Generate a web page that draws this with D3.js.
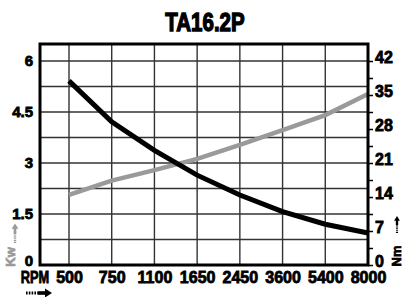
<!DOCTYPE html>
<html>
<head>
<meta charset="utf-8">
<script src="https://cdn.jsdelivr.net/npm/d3@7"></script>
<style>
body { margin: 0; background: #fff; }
svg text { font-family: "Liberation Sans", Arial, sans-serif; font-weight: bold; }
</style>
</head>
<body>
<svg width="404" height="297"></svg>
<script>
var rpm = ["500", "750", "1100", "1650", "2450", "3600", "5400", "8000"];
var kw = [2.06, 2.48, 2.79, 3.12, 3.53, 3.97, 4.41, 5.03];
var nm = [37.9, 29.5, 23.6, 18.5, 14.4, 11.0, 8.4, 6.6];
var kwTicks = [0, 1.5, 3, 4.5, 6];
var nmTicks = [0, 7, 14, 21, 28, 35, 42];

var svg = d3.select("svg");
var plotLeft = 40, plotRight = 368, plotTop = 44, plotBottom = 265;

var x = d3.scalePoint().domain(rpm).range([69, plotRight]);
var yKw = d3.scaleLinear().domain([0, 6.5]).range([plotBottom, plotTop]);
var yNm = d3.scaleLinear().domain([0, 45.5]).range([plotBottom, plotTop]);

// grid
var grid = svg.append("g").attr("stroke", "#333").attr("stroke-width", 1.4);
grid.selectAll("line.h")
    .data(d3.range(1, 9).map(function(i) { return i * 0.75; }))
    .enter().append("line")
    .attr("x1", plotLeft).attr("x2", plotRight)
    .attr("y1", function(d) { return yKw(d); })
    .attr("y2", function(d) { return yKw(d); });
grid.selectAll("line.v")
    .data(rpm.slice(0, -1))
    .enter().append("line")
    .attr("x1", function(d) { return x(d); })
    .attr("x2", function(d) { return x(d); })
    .attr("y1", plotTop).attr("y2", plotBottom);

// lines
var kwLine = d3.line()
    .x(function(d, i) { return x(rpm[i]); })
    .y(function(d) { return yKw(d); });
var nmLine = d3.line()
    .x(function(d, i) { return x(rpm[i]); })
    .y(function(d) { return yNm(d); });

svg.append("path").datum(kw)
    .attr("d", kwLine)
    .attr("fill", "none")
    .attr("stroke", "#9a9a9a")
    .attr("stroke-width", 4.5);
svg.append("path").datum(nm)
    .attr("d", nmLine)
    .attr("fill", "none")
    .attr("stroke", "#000")
    .attr("stroke-width", 5);

// frame
svg.append("rect")
    .attr("x", plotLeft).attr("y", plotTop)
    .attr("width", plotRight - plotLeft).attr("height", plotBottom - plotTop)
    .attr("fill", "none").attr("stroke", "#000").attr("stroke-width", 3);

// axes
var leftAxis = svg.append("g")
    .attr("transform", "translate(" + plotLeft + ",0)")
    .call(d3.axisLeft(yKw).tickValues(kwTicks).tickSize(0).tickPadding(7)
        .tickFormat(function(d) { return String(d); }));
var rightAxis = svg.append("g")
    .attr("transform", "translate(" + plotRight + ",0)")
    .call(d3.axisRight(yNm)
        .tickValues(d3.range(0, 13).map(function(i) { return i * 3.5; }))
        .tickSize(5).tickPadding(2)
        .tickFormat(function(d) { return nmTicks.indexOf(d) >= 0 ? d : ""; }));
var bottomAxis = svg.append("g")
    .attr("transform", "translate(0," + plotBottom + ")")
    .call(d3.axisBottom(x).tickSize(0).tickPadding(7));

[leftAxis, rightAxis, bottomAxis].forEach(function(a) {
    a.select(".domain").remove();
    a.selectAll("text")
        .attr("font-family", null)
        .attr("font-size", 16)
        .attr("fill", "#000")
        .attr("stroke", "#000").attr("stroke-width", 0.8);
});
leftAxis.selectAll("text").attr("font-size", 15)
    .attr("dy", function(d) { return d === 0 ? "0" : "0.32em"; });
rightAxis.selectAll("text").attr("dy", "0.12em");
rightAxis.selectAll("line").attr("stroke", "#000").attr("stroke-width", 1.5);

// title
svg.append("text")
    .attr("transform", "translate(205,31) scale(0.82,1)")
    .attr("text-anchor", "middle")
    .attr("font-size", 25)
    .attr("stroke", "#000").attr("stroke-width", 1.3)
    .text("TA16.2P");

svg.append("text")
    .attr("transform", "translate(35,283) scale(0.8,1)")
    .attr("text-anchor", "middle")
    .attr("font-size", 16)
    .attr("stroke", "#000").attr("stroke-width", 0.8)
    .text("RPM");

svg.append("text")
    .attr("transform", "translate(10,257) rotate(-90)")
    .attr("text-anchor", "middle").attr("dy", "0.35em")
    .attr("font-size", 13)
    .attr("fill", "#9a9a9a")
    .attr("stroke", "#9a9a9a").attr("stroke-width", 0.7)
    .text("Kw");

svg.append("text")
    .attr("transform", "translate(396,256) rotate(-90)")
    .attr("text-anchor", "middle").attr("dy", "0.35em")
    .attr("font-size", 13)
    .attr("fill", "#000")
    .attr("stroke", "#000").attr("stroke-width", 0.7)
    .text("Nm");

// arrows
function arrow(tx, ty, rot, s, color) {
    var g = svg.append("g")
        .attr("transform", "translate(" + tx + "," + ty + ") rotate(" + rot + ") scale(" + s + ")");
    g.append("line")
        .attr("x1", 0).attr("x2", 12).attr("y1", 0).attr("y2", 0)
        .attr("stroke", color).attr("stroke-width", 3.2)
        .attr("stroke-dasharray", "1.6,1.2");
    g.append("rect")
        .attr("x", 12).attr("y", -1.8).attr("width", 8).attr("height", 3.6)
        .attr("fill", color);
    g.append("path")
        .attr("d", "M19,-4.5L26,0L19,4.5Z")
        .attr("fill", color);
}
arrow(26, 293, 0, 1, "#000");
arrow(15, 243, -90, 0.75, "#9a9a9a");
arrow(397, 233, -90, 0.65, "#000");
</script>
</body>
</html>
